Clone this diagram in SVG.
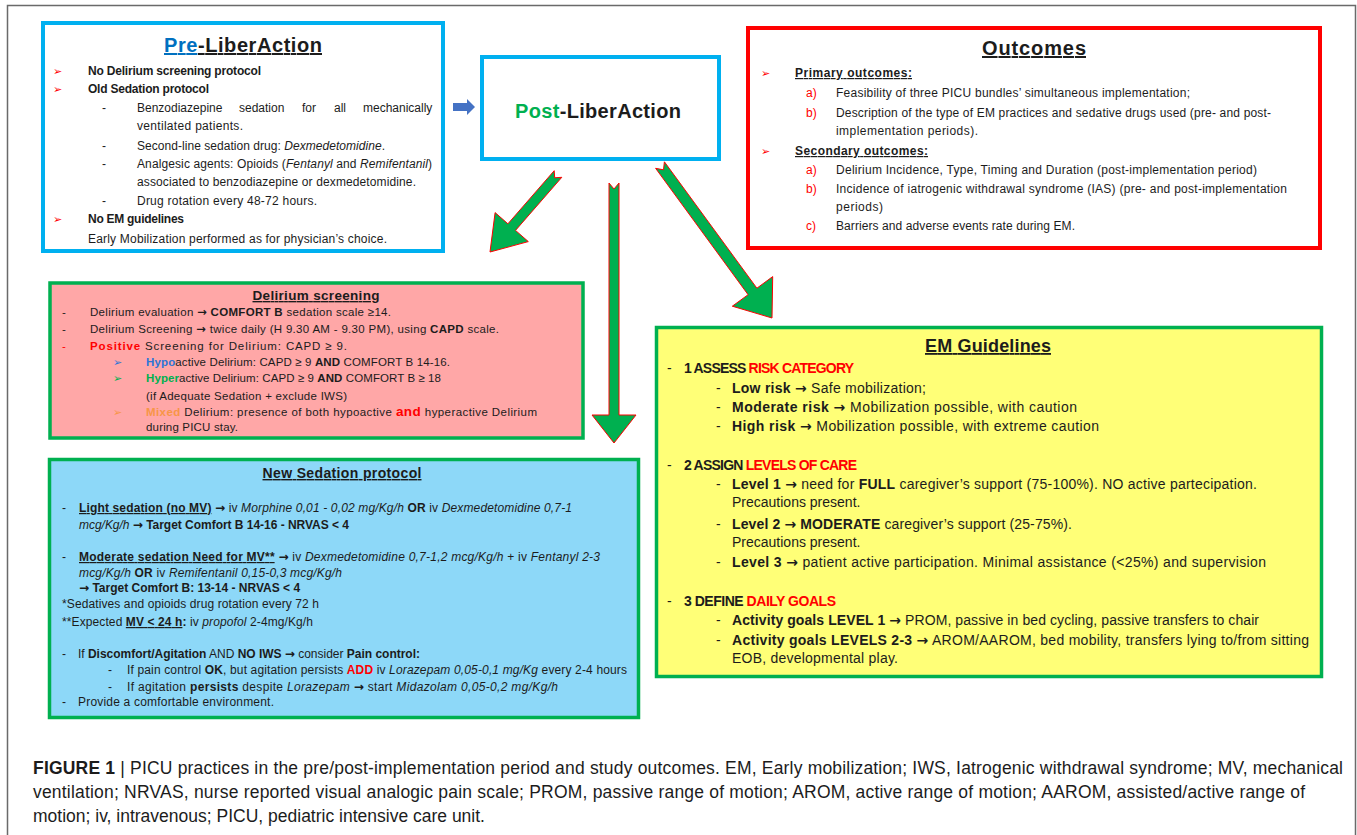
<svg xmlns="http://www.w3.org/2000/svg" width="1357" height="835" viewBox="0 0 1357 835">
<style>
text{font-family:"Liberation Sans",Arial,sans-serif;fill:#1c1c1c}
.b{font-weight:bold}
.i{font-style:italic}
.u{text-decoration:underline}
.r{fill:#FF0000}
.g{fill:#00B050}
.a{font-family:"DejaVu Sans",sans-serif;font-weight:bold;font-style:normal}
.bul{font-family:"DejaVu Sans",sans-serif;fill:#FF0000;font-size:11px}
.p12{font-size:12px}
.p11{font-size:11.5px}
.p14{font-size:14px}
.ttl{font-weight:bold;text-decoration:underline;text-anchor:middle}
.box{stroke-width:4}
.gbox{stroke:#00B050;stroke-width:3.5}
.arr{fill:#00B050;stroke:#FF0000;stroke-width:1}
</style>
<rect width="1357" height="835" fill="#ffffff"/>
<path d="M7.5,840 V5.5 H1355.5 V840" fill="none" stroke="#6a6a6a" stroke-width="1.5"/>

<g id="pre">
<rect x="43" y="23" width="400" height="228" fill="#ffffff" stroke="#00B0F0" class="box"/>
<text x="243" y="52" font-size="20" class="b" text-anchor="middle" textLength="158"><tspan fill="#0070C0" class="u">Pre</tspan><tspan class="u">-LiberAction</tspan></text>
<g class="p12">
<text x="53" y="75" class="bul">➢</text>
<text x="88" y="75" class="b" textLength="173">No Delirium screening protocol</text>
<text x="53" y="93" class="bul">➢</text>
<text x="88" y="93" class="b" textLength="121">Old Sedation protocol</text>
<text x="102" y="112">-</text>
<text y="112"><tspan x="137">Benzodiazepine</tspan><tspan x="239">sedation</tspan><tspan x="302">for</tspan><tspan x="334">all</tspan><tspan x="363">mechanically</tspan></text>
<text x="137" y="130" textLength="106">ventilated patients.</text>
<text x="102" y="150">-</text>
<text x="137" y="150" textLength="248">Second-line sedation drug: <tspan class="i">Dexmedetomidine</tspan>.</text>
<text x="102" y="168">-</text>
<text x="137" y="168" textLength="295">Analgesic agents: Opioids (<tspan class="i">Fentanyl</tspan> and <tspan class="i">Remifentanil</tspan>)</text>
<text x="137" y="186" textLength="279">associated to benzodiazepine or dexmedetomidine.</text>
<text x="102" y="205">-</text>
<text x="137" y="205" textLength="180">Drug rotation every 48-72 hours.</text>
<text x="53" y="223" class="bul">➢</text>
<text x="88" y="223" class="b" textLength="96">No EM guidelines</text>
<text x="88" y="243" textLength="299">Early Mobilization performed as for physician’s choice.</text>
</g>
</g>

<g id="post">
<rect x="482" y="57" width="237" height="102" fill="#ffffff" stroke="#00B0F0" class="box"/>
<text x="598" y="118" font-size="20" class="b" text-anchor="middle" textLength="166"><tspan class="g">Post</tspan>-LiberAction</text>
</g>

<g id="outcomes">
<rect x="748" y="28" width="572" height="220" fill="#ffffff" stroke="#FF0000" class="box"/>
<text x="1034" y="55" font-size="20" class="ttl" textLength="104">Outcomes</text>
<g class="p12">
<text x="761" y="77" class="bul">➢</text>
<text x="795" y="77" class="b u" textLength="117">Primary outcomes:</text>
<text x="806" y="97" class="r">a)</text>
<text x="836" y="97" textLength="354">Feasibility of three PICU bundles’ simultaneous implementation;</text>
<text x="806" y="117" class="r">b)</text>
<text x="836" y="117" textLength="435">Description of the type of EM practices and sedative drugs used (pre- and post-</text>
<text x="836" y="135" textLength="142">implementation periods).</text>
<text x="761" y="155" class="bul">➢</text>
<text x="795" y="155" class="b u" textLength="133">Secondary outcomes:</text>
<text x="806" y="174" class="r">a)</text>
<text x="836" y="174" textLength="421">Delirium Incidence, Type, Timing and Duration (post-implementation period)</text>
<text x="806" y="193" class="r">b)</text>
<text x="836" y="193" textLength="451">Incidence of iatrogenic withdrawal syndrome (IAS) (pre- and post-implementation</text>
<text x="836" y="211" textLength="47">periods)</text>
<text x="806" y="230" class="r">c)</text>
<text x="836" y="230" textLength="239">Barriers and adverse events rate during EM.</text>
</g>
</g>

<g id="delirium">
<rect x="50" y="283" width="533" height="155" fill="#FFA7A7" class="gbox"/>
<text x="316" y="300" font-size="13.5" class="ttl" textLength="127">Delirium screening</text>
<g class="p11">
<text x="62" y="316">-</text>
<text x="90" y="316" textLength="301">Delirium evaluation <tspan class="a">→</tspan> <tspan class="b">COMFORT B</tspan> sedation scale ≥14.</text>
<text x="62" y="333">-</text>
<text x="90" y="333" textLength="409">Delirium Screening <tspan class="a">→</tspan> twice daily (H 9.30 AM - 9.30 PM), using <tspan class="b">CAPD</tspan> scale.</text>
<text x="62" y="350" class="r">-</text>
<text x="90" y="350" textLength="257"><tspan class="b r">Positive</tspan> Screening for Delirium: CAPD ≥ 9.</text>
<text x="113" y="366" class="bul" style="fill:#2E75D6">➢</text>
<text x="146" y="366" textLength="304"><tspan class="b" fill="#2E75D6">Hypo</tspan>active Delirium: CAPD ≥ 9 <tspan class="b">AND</tspan> COMFORT B 14-16.</text>
<text x="113" y="382" class="bul" style="fill:#00B050">➢</text>
<text x="146" y="382" textLength="295"><tspan class="b g">Hyper</tspan>active Delirium: CAPD ≥ 9 <tspan class="b">AND</tspan> COMFORT B ≥ 18</text>
<text x="146" y="400" textLength="201">(if Adequate Sedation + exclude IWS)</text>
<text x="113" y="416" class="bul" style="fill:#F79646">➢</text>
<text x="146" y="416" textLength="391"><tspan class="b" fill="#F79646">Mixed</tspan> Delirium: presence of both hypoactive <tspan class="b r" font-size="13.5">and</tspan> hyperactive Delirium</text>
<text x="146" y="431" textLength="92">during PICU stay.</text>
</g>
</g>

<g id="sedation">
<rect x="49.5" y="459.5" width="589" height="258" fill="#8DD8F8" class="gbox"/>
<text x="342" y="478" font-size="14" class="ttl" textLength="159">New Sedation protocol</text>
<g class="p12">
<text x="62" y="512">-</text>
<text x="79" y="512" textLength="493"><tspan class="b u">Light sedation (no MV)</tspan> <tspan class="a">→</tspan> iv <tspan class="i">Morphine 0,01 - 0,02 mg/Kg/h</tspan> <tspan class="b">OR</tspan> iv <tspan class="i">Dexmedetomidine  0,7-1</tspan></text>
<text x="79" y="529" textLength="270"><tspan class="i">mcg/Kg/h</tspan> <tspan class="a">→</tspan> <tspan class="b">Target Comfort B 14-16 - NRVAS &lt; 4</tspan></text>
<text x="62" y="561">-</text>
<text x="79" y="561" textLength="521"><tspan class="b u">Moderate sedation Need for MV**</tspan> <tspan class="a">→</tspan> iv <tspan class="i">Dexmedetomidine  0,7-1,2 mcg/Kg/h</tspan> + iv <tspan class="i">Fentanyl  2-3</tspan></text>
<text x="79" y="577" textLength="263"><tspan class="i">mcg/Kg/h</tspan> <tspan class="b">OR</tspan> iv <tspan class="i">Remifentanil  0,15-0,3 mcg/Kg/h</tspan></text>
<text x="79" y="592" class="b"><tspan class="a">→</tspan> Target Comfort B: 13-14 - NRVAS &lt; 4</text>
<text x="62" y="608" textLength="257">*Sedatives and opioids drug rotation every 72 h</text>
<text x="62" y="626" textLength="251">**Expected  <tspan class="b u">MV &lt; 24 h</tspan><tspan class="b">:</tspan> iv <tspan class="i">propofol</tspan> 2-4mg/Kg/h</text>
<text x="62" y="658">-</text>
<text x="78" y="658" textLength="342">If <tspan class="b">Discomfort/Agitation</tspan>  AND  <tspan class="b">NO IWS</tspan> <tspan class="a">→</tspan> consider <tspan class="b">Pain control:</tspan></text>
<text x="108" y="674">-</text>
<text x="127" y="674" textLength="500">If pain control <tspan class="b">OK</tspan>, but agitation persists <tspan class="b r">ADD</tspan> iv <tspan class="i">Lorazepam 0,05-0,1 mg/Kg</tspan> every 2-4 hours</text>
<text x="108" y="691">-</text>
<text x="127" y="691" textLength="431">If agitation <tspan class="b">persists</tspan> despite <tspan class="i">Lorazepam</tspan> <tspan class="a">→</tspan> start <tspan class="i">Midazolam 0,05-0,2 mg/Kg/h</tspan></text>
<text x="62" y="706">-</text>
<text x="78" y="706" textLength="196">Provide a comfortable environment.</text>
</g>
</g>

<g id="em">
<rect x="656.5" y="327.5" width="665" height="349" fill="#FFFF77" class="gbox"/>
<text x="988" y="352" font-size="18" class="ttl" textLength="126">EM Guidelines</text>
<g class="p14">
<text x="667" y="373">-</text>
<text x="684" y="373" class="b" textLength="170">1 ASSESS <tspan class="r">RISK CATEGORY</tspan></text>
<text x="716" y="393">-</text>
<text x="732" y="393" textLength="194"><tspan class="b">Low risk <tspan class="a">→</tspan></tspan> Safe mobilization;</text>
<text x="716" y="412">-</text>
<text x="732" y="412" textLength="345"><tspan class="b">Moderate risk <tspan class="a">→</tspan></tspan> Mobilization possible, with caution</text>
<text x="716" y="431">-</text>
<text x="732" y="431" textLength="367"><tspan class="b">High risk <tspan class="a">→</tspan></tspan> Mobilization possible, with extreme caution</text>
<text x="667" y="470">-</text>
<text x="684" y="470" class="b" textLength="173">2 ASSIGN <tspan class="r">LEVELS OF CARE</tspan></text>
<text x="716" y="489">-</text>
<text x="732" y="489" textLength="525"><tspan class="b">Level 1 <tspan class="a">→</tspan></tspan> need for <tspan class="b">FULL</tspan> caregiver’s support (75-100%).  NO active partecipation.</text>
<text x="732" y="507">Precautions present.</text>
<text x="716" y="529">-</text>
<text x="732" y="529" textLength="340"><tspan class="b">Level 2 <tspan class="a">→</tspan> MODERATE</tspan> caregiver’s support (25-75%).</text>
<text x="732" y="547">Precautions present.</text>
<text x="716" y="567">-</text>
<text x="732" y="567" textLength="534"><tspan class="b">Level 3 <tspan class="a">→</tspan></tspan> patient active participation.  Minimal assistance (&lt;25%) and supervision</text>
<text x="667" y="606">-</text>
<text x="684" y="606" class="b" textLength="152">3 DEFINE <tspan class="r">DAILY GOALS</tspan></text>
<text x="716" y="625">-</text>
<text x="732" y="625" textLength="527"><tspan class="b">Activity goals LEVEL 1 <tspan class="a">→</tspan></tspan> PROM, passive in bed cycling, passive transfers to chair</text>
<text x="716" y="645">-</text>
<text x="732" y="645" textLength="577"><tspan class="b">Activity goals LEVELS 2-3 <tspan class="a">→</tspan></tspan> AROM/AAROM, bed mobility, transfers lying to/from sitting</text>
<text x="732" y="663" textLength="166">EOB, developmental play.</text>
</g>
</g>

<g id="connectors">
<polygon points="453,103 467,103 467,99 475,107 467,115 467,111 453,111" fill="#4472C4"/>
<polygon class="arr" points="554.2,170.7 507.9,223.8 495.1,212.6 490,252 528.3,241.6 515.5,230.4 561.8,177.3 554.7,177.8"/>
<polygon class="arr" points="609,183 614,189 619,183 619,415 636,415 614,443 592,415 609,415"/>
<polygon class="arr" points="664.4,161.8 756.9,288.2 772.7,276.6 772,318 732.3,306.2 748.1,294.7 655.6,168.3 663.5,169.8"/>
</g>

<g id="caption" font-size="17.5" style="fill:#222">
<text x="33" y="774" textLength="1310"><tspan class="b">FIGURE 1</tspan> | PICU practices in the pre/post-implementation period and study outcomes. EM, Early mobilization; IWS, Iatrogenic withdrawal syndrome; MV, mechanical</text>
<text x="33" y="798" textLength="1272">ventilation; NRVAS, nurse reported visual analogic pain scale; PROM, passive range of motion; AROM, active range of motion; AAROM, assisted/active range of</text>
<text x="33" y="822">motion; iv, intravenous; PICU, pediatric intensive care unit.</text>
</g>
</svg>
